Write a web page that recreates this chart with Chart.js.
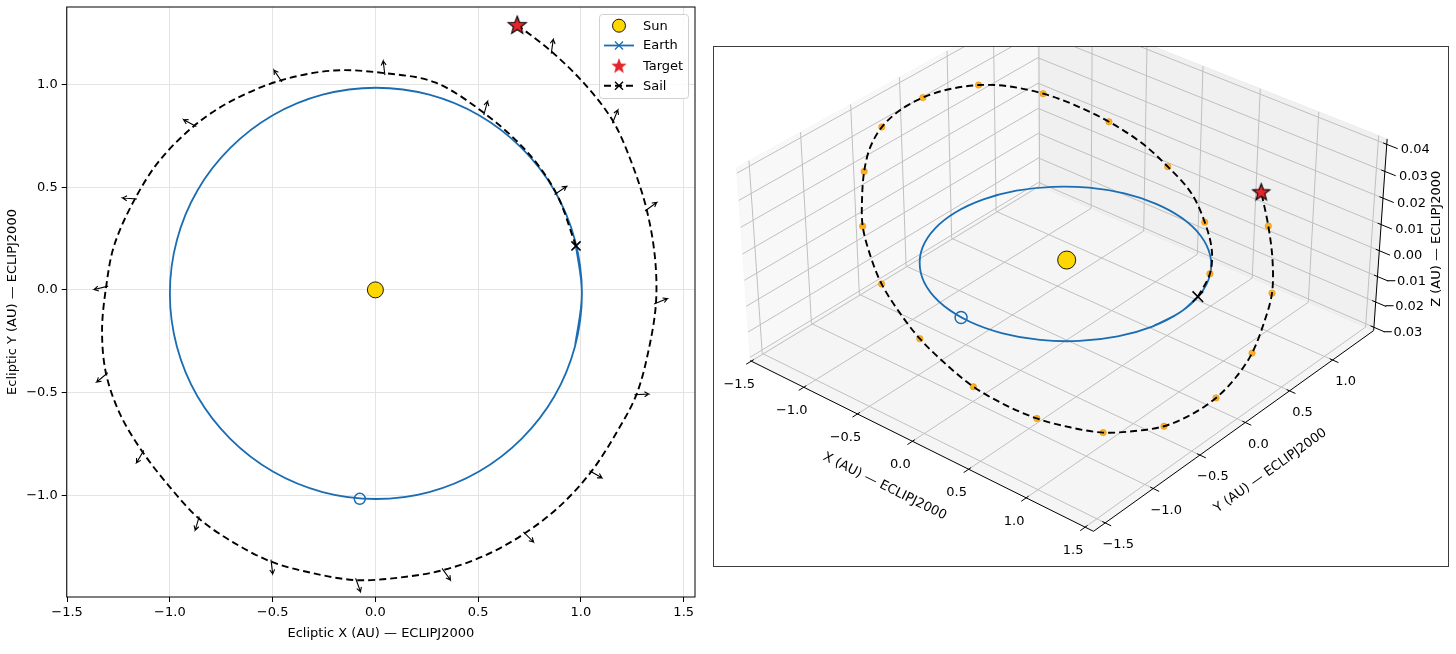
<!DOCTYPE html>
<html><head><meta charset="utf-8">
<script src="https://cdn.jsdelivr.net/npm/chart.js@4.4.1/dist/chart.umd.min.js"></script>
<style>
html,body{margin:0;padding:0;background:#fff;width:1456px;height:654px;overflow:hidden;}
#left{position:absolute;left:0;top:0;width:705px;height:654px;}
#rightBox{position:absolute;left:713px;top:46px;width:734px;height:519px;border:1px solid #3c3c3c;background:#fff;}
canvas{display:block;}
</style></head><body>
<div id="left"><canvas id="c2d" width="705" height="654"></canvas></div>
<div id="rightBox"><canvas id="c3d" width="734" height="519"></canvas></div>
<script>
// ---------------- DATA ----------------
const xTicks = [-1.5, -1.0, -0.5, 0.0, 0.5, 1.0, 1.5];
const yTicks2D = [-1.0, -0.5, 0.0, 0.5, 1.0];
const yTicks3D = [-1.5, -1.0, -0.5, 0.0, 0.5, 1.0];
const zTicks = [-0.03, -0.02, -0.01, 0.00, 0.01, 0.02, 0.03, 0.04];

// Earth orbit (AU, ECLIPJ2000) - closed loop, first/last points overlap the start
const earthX = [0.971, 1.005, 0.971, 0.871, 0.711, 0.504, 0.262, 0.003, -0.257, -0.499, -0.706, -0.866, -0.966, -1.000, -0.966, -0.866, -0.706, -0.499, -0.257, 0.003, 0.262, 0.504, 0.711, 0.871, 0.971, 1.005, 0.971];
const earthY = [-0.276, -0.017, 0.242, 0.484, 0.691, 0.850, 0.950, 0.984, 0.950, 0.850, 0.691, 0.484, 0.242, -0.017, -0.276, -0.518, -0.725, -0.884, -0.984, -1.018, -0.984, -0.884, -0.725, -0.518, -0.276, -0.017, 0.242];
const earthZ = [0, 0, 0, 0, 0, 0, 0, 0, 0, 0, 0, 0, 0, 0, 0, 0, 0, 0, 0, 0, 0, 0, 0, 0, 0, 0, 0];
const earthEnd = [-0.076, -1.017, 0.0];

// Sail trajectory
const sailX = [0.976, 0.88, 0.74, 0.53, 0.29, 0.045, -0.20, -0.46, -0.70, -0.88, -1.05, -1.17, -1.27, -1.31, -1.33, -1.31, -1.24, -1.132, -1.00, -0.86, -0.69, -0.507, -0.30, -0.093, 0.12, 0.33, 0.54, 0.727, 0.90, 1.05, 1.17, 1.27, 1.33, 1.365, 1.36, 1.32, 1.25, 1.157, 1.02, 0.857, 0.69];
const sailY = [0.214, 0.47, 0.67, 0.86, 1.01, 1.055, 1.068, 1.02, 0.92, 0.80, 0.63, 0.443, 0.22, 0.016, -0.20, -0.41, -0.61, -0.79, -0.96, -1.112, -1.23, -1.323, -1.38, -1.413, -1.40, -1.364, -1.29, -1.185, -1.05, -0.885, -0.70, -0.51, -0.29, -0.065, 0.16, 0.39, 0.61, 0.82, 1.00, 1.16, 1.29];
const sailZ = [0.000, 0.001, 0.003, 0.0054, 0.009, 0.0136, 0.018, 0.0226, 0.027, 0.0305, 0.0338, 0.036, 0.037, 0.0375, 0.0368, 0.0352, 0.0328, 0.0298, 0.0258, 0.0214, 0.0165, 0.0113, 0.006, 0.001, -0.0045, -0.0097, -0.014, -0.0179, -0.021, -0.024, -0.0255, -0.0263, -0.026, -0.0244, -0.022, -0.019, -0.014, -0.0091, -0.003, 0.0034, 0.0106];

// Sail attitude samples (position + thrust direction angle in degrees)
const attX = [0.88, 0.53, 0.045, -0.46, -0.88, -1.17, -1.31, -1.31, -1.132, -0.86, -0.507, -0.093, 0.33, 0.727, 1.05, 1.27, 1.365, 1.32, 1.157, 0.857];
const attY = [0.47, 0.86, 1.055, 1.02, 0.80, 0.443, 0.016, -0.41, -0.79, -1.112, -1.323, -1.413, -1.364, -1.185, -0.885, -0.51, -0.065, 0.39, 0.82, 1.16];
const attZ = [0.001, 0.0054, 0.0136, 0.0226, 0.0305, 0.036, 0.0375, 0.0352, 0.0298, 0.0214, 0.0113, 0.001, -0.0097, -0.0179, -0.024, -0.0263, -0.0244, -0.019, -0.0091, 0.0034];
const attAngle = [34, 75, 97, 124, 152, 176, -166, -140, -120, -106, -83, -70, -54, -45, -30, 3, 22, 36, 68, 82];

const sunPos = [0.0, 0.0, 0.0];
const targetPos = [0.69, 1.29, 0.0106];

const legendLabels = ['Sun', 'Earth', 'Target', 'Sail'];

// ---------------- STYLE ----------------
const FONT = 'DejaVu Sans';
const BLUE = '#1a6db3';
const GOLD = '#FFD700';
const RED = '#e3262b';
const ORANGE = 'rgba(255,165,0,0.85)';
const DEG = Math.PI / 180;
const MINUS = '\u2212';
const fmt1 = v => (v < -1e-9 ? MINUS : '') + Math.abs(v).toFixed(1);
const fmt2 = v => (v < -1e-9 ? MINUS : '') + Math.abs(v).toFixed(2);

function makeStar(R, fill, stroke, lw) {
  const s = Math.ceil(2 * R + 2 * lw + 4);
  const c = document.createElement('canvas'); c.width = s; c.height = s;
  const g = c.getContext('2d');
  g.translate(s / 2, s / 2 + R * 0.08);
  g.beginPath();
  for (let i = 0; i < 10; i++) {
    const r = i % 2 === 0 ? R : R * 0.42;
    const a = -Math.PI / 2 + i * Math.PI / 5;
    const px = r * Math.cos(a), py = r * Math.sin(a);
    if (i === 0) g.moveTo(px, py); else g.lineTo(px, py);
  }
  g.closePath();
  g.fillStyle = fill; g.fill();
  g.lineWidth = lw; g.strokeStyle = stroke; g.lineJoin = 'miter'; g.stroke();
  return c;
}
const star2D = makeStar(9.5, RED, '#000', 1.1);
const star3D = makeStar(9, RED, '#000', 1.1);
const starLeg = makeStar(7.5, RED, RED, 0.5);

const pts = (xs, ys) => xs.map((x, i) => ({ x: x, y: ys[i] }));
const SPLINE = 0.33;

// ---------------- LEFT 2D CHART ----------------
const ARROW_LEN = 0.06, ARROW_BACK = 0.01, HEAD = 0.024, HEAD_ANG = 30;
const arrowSets = attX.map((bx, i) => {
  const by = attY[i], t = attAngle[i] * DEG;
  const ux = Math.cos(t), uy = Math.sin(t);
  const tx = bx + ARROW_LEN * ux, ty = by + ARROW_LEN * uy;
  const h1 = t + Math.PI - HEAD_ANG * DEG, h2 = t + Math.PI + HEAD_ANG * DEG;
  return {
    data: [
      { x: bx - ARROW_BACK * ux, y: by - ARROW_BACK * uy },
      { x: tx, y: ty },
      { x: tx + HEAD * Math.cos(h1), y: ty + HEAD * Math.sin(h1) },
      { x: tx, y: ty },
      { x: tx + HEAD * Math.cos(h2), y: ty + HEAD * Math.sin(h2) }
    ],
    showLine: true, borderColor: '#000', borderWidth: 1.1, pointRadius: 0, tension: 0, order: 6
  };
});

const frame2D = {
  id: 'frame2D',
  afterDatasetsDraw(chart) {
    const { ctx, chartArea: a } = chart;
    ctx.save();
    ctx.strokeStyle = '#000'; ctx.lineWidth = 1;
    ctx.strokeRect(a.left, a.top, a.right - a.left, a.bottom - a.top);
    ctx.restore();
  },
  afterDraw(chart) {
    const ctx = chart.ctx;
    const L = 599.5, T = 14.5, W = 89, H = 84;
    ctx.save();
    ctx.beginPath();
    if (ctx.roundRect) ctx.roundRect(L, T, W, H, 3); else ctx.rect(L, T, W, H);
    ctx.fillStyle = 'rgba(255,255,255,0.85)'; ctx.fill();
    ctx.strokeStyle = '#d0d0d0'; ctx.lineWidth = 1; ctx.stroke();
    const rows = [25.7, 45.5, 65.7, 85.7];
    const hx0 = 604, hx1 = 634, hc = 619;
    ctx.beginPath(); ctx.arc(hc, rows[0], 6.5, 0, 2 * Math.PI);
    ctx.fillStyle = GOLD; ctx.fill(); ctx.strokeStyle = '#000'; ctx.lineWidth = 0.9; ctx.stroke();
    ctx.beginPath(); ctx.moveTo(hx0, rows[1]); ctx.lineTo(hx1, rows[1]);
    ctx.strokeStyle = BLUE; ctx.lineWidth = 1.8; ctx.stroke();
    ctx.beginPath(); ctx.moveTo(hc - 4, rows[1] - 4); ctx.lineTo(hc + 4, rows[1] + 4);
    ctx.moveTo(hc - 4, rows[1] + 4); ctx.lineTo(hc + 4, rows[1] - 4);
    ctx.lineWidth = 1.3; ctx.stroke();
    ctx.drawImage(starLeg, hc - starLeg.width / 2, rows[2] - starLeg.height / 2);
    ctx.beginPath(); ctx.setLineDash([7, 4]); ctx.moveTo(hx0, rows[3]); ctx.lineTo(hx1, rows[3]);
    ctx.strokeStyle = '#000'; ctx.lineWidth = 2; ctx.stroke(); ctx.setLineDash([]);
    ctx.beginPath(); ctx.moveTo(hc - 4, rows[3] - 4); ctx.lineTo(hc + 4, rows[3] + 4);
    ctx.moveTo(hc - 4, rows[3] + 4); ctx.lineTo(hc + 4, rows[3] - 4);
    ctx.lineWidth = 1.4; ctx.stroke();
    ctx.fillStyle = '#000'; ctx.font = '13px "' + FONT + '"'; ctx.textBaseline = 'middle'; ctx.textAlign = 'left';
    legendLabels.forEach((t, i) => ctx.fillText(t, 643, rows[i] + 0.5));
    ctx.restore();
  }
};

const tickFont = { family: FONT, size: 13 };
new Chart(document.getElementById('c2d'), {
  type: 'scatter',
  data: {
    datasets: [
      { data: [{ x: targetPos[0], y: targetPos[1] }], pointStyle: star2D, pointRadius: 10, order: 0 },
      { data: [{ x: sunPos[0], y: sunPos[1] }], pointStyle: 'circle', pointRadius: 8, backgroundColor: GOLD, borderColor: '#000', borderWidth: 0.9, order: 1 },
      { data: [{ x: sailX[0], y: sailY[0] }], pointStyle: 'crossRot', pointRadius: 6.5, borderColor: '#000', borderWidth: 1.6, order: 2 },
      { data: pts(sailX, sailY), showLine: true, borderColor: '#000', borderWidth: 1.9, borderDash: [7, 4], pointRadius: 0, tension: SPLINE, order: 3 },
      { data: [{ x: sailX[0], y: sailY[0] }], pointStyle: 'crossRot', pointRadius: 5, borderColor: BLUE, borderWidth: 1.3, order: 4 },
      { data: [{ x: earthEnd[0], y: earthEnd[1] }], pointStyle: 'circle', pointRadius: 5.5, backgroundColor: 'rgba(0,0,0,0)', borderColor: BLUE, borderWidth: 1.5, order: 5 },
      ...arrowSets,
      { data: pts(earthX, earthY), showLine: true, borderColor: BLUE, borderWidth: 1.8, pointRadius: 0, tension: SPLINE, order: 7 }
    ]
  },
  options: {
    responsive: false, animation: false, events: [],
    layout: { autoPadding: false, padding: { top: 7, right: 10, left: 0, bottom: 0 } },
    plugins: { legend: { display: false }, tooltip: { enabled: false } },
    scales: {
      x: {
        type: 'linear', min: -1.502, max: 1.555,
        afterBuildTicks: a => { a.ticks = xTicks.map(v => ({ value: v })); },
        afterFit: a => { a.height = 57; a.paddingLeft = 0; a.paddingRight = 0; },
        ticks: { callback: v => fmt1(v), color: '#000', font: tickFont, padding: 3, maxRotation: 0, autoSkip: false },
        grid: { color: '#e4e4e4', lineWidth: 1, tickColor: '#000', tickLength: 5, tickWidth: 1 },
        border: { display: false },
        title: { display: true, text: 'Ecliptic X (AU) \u2014 ECLIPJ2000', color: '#000', font: tickFont, padding: { top: 0, bottom: 13 } }
      },
      y: {
        type: 'linear', min: -1.495, max: 1.377,
        afterBuildTicks: a => { a.ticks = yTicks2D.map(v => ({ value: v })); },
        afterFit: a => { a.width = 66.7; a.paddingTop = 0; a.paddingBottom = 0; },
        ticks: { callback: v => fmt1(v), color: '#000', font: tickFont, padding: 4, autoSkip: false },
        grid: { color: '#e4e4e4', lineWidth: 1, tickColor: '#000', tickLength: 5, tickWidth: 1 },
        border: { display: false },
        title: { display: true, text: 'Ecliptic Y (AU) \u2014 ECLIPJ2000', color: '#000', font: tickFont, padding: { top: 5, bottom: 0 } }
      }
    }
  },
  plugins: [frame2D]
});

// ---------------- RIGHT 3D CHART ----------------
const W3 = 734, H3 = 519;
const lim = { x: [-1.51, 1.57], y: [-1.62, 1.49], z: [-0.0313, 0.042] };
const view = { azim: -50, elev: 35, dist: 15.1, sx: 226, sy: 208.4, cx: 1064 - 714, cy: 251.4 - 47, h: 0.563 };

function proj(x, y, z) {
  const X = (x - (lim.x[0] + lim.x[1]) / 2) / ((lim.x[1] - lim.x[0]) / 2);
  const Y = (y - (lim.y[0] + lim.y[1]) / 2) / ((lim.y[1] - lim.y[0]) / 2);
  const Z = (z - (lim.z[0] + lim.z[1]) / 2) / ((lim.z[1] - lim.z[0]) / 2) * view.h;
  const a = view.azim * DEG, e = view.elev * DEG;
  const R = -Math.sin(a) * X + Math.cos(a) * Y;
  const U = -Math.sin(e) * Math.cos(a) * X - Math.sin(e) * Math.sin(a) * Y + Math.cos(e) * Z;
  const dep = Math.cos(e) * Math.cos(a) * X + Math.cos(e) * Math.sin(a) * Y + Math.sin(e) * Z;
  const f = view.dist / (view.dist - dep);
  return { x: view.cx + view.sx * f * R, y: view.cy - view.sy * f * U };
}
const proj3 = (xs, ys, zs) => xs.map((x, i) => proj(x, ys[i], zs[i]));
function segs(list) {
  const out = [];
  list.forEach(([p, q]) => { out.push(proj(...p), proj(...q), { x: NaN, y: NaN }); });
  return out;
}
const [x0, x1] = lim.x, [y0, y1] = lim.y, [z0, z1] = lim.z;
const poly = c => { const p = c.map(v => proj(...v)); p.push(p[0]); return p; };

const paneFloor = poly([[x0, y0, z0], [x1, y0, z0], [x1, y1, z0], [x0, y1, z0]]);
const paneLeft = poly([[x0, y0, z0], [x0, y1, z0], [x0, y1, z1], [x0, y0, z1]]);
const paneBack = poly([[x0, y1, z0], [x1, y1, z0], [x1, y1, z1], [x0, y1, z1]]);

const gridList = [];
xTicks.forEach(v => { gridList.push([[v, y0, z0], [v, y1, z0]]); gridList.push([[v, y1, z0], [v, y1, z1]]); });
yTicks3D.forEach(v => { gridList.push([[x0, v, z0], [x1, v, z0]]); gridList.push([[x0, v, z0], [x0, v, z1]]); });
zTicks.forEach(v => { gridList.push([[x0, y0, v], [x0, y1, v]]); gridList.push([[x0, y1, v], [x1, y1, v]]); });

const axisList = [
  [[x0, y0, z0], [x1, y0, z0]],
  [[x1, y0, z0], [x1, y1, z0]],
  [[x1, y1, z0], [x1, y1, z1]]
];
xTicks.forEach(v => axisList.push([[v, y0 + 0.025, z0], [v, y0 - 0.05, z0]]));
yTicks3D.forEach(v => axisList.push([[x1 - 0.025, v, z0], [x1 + 0.05, v, z0]]));
zTicks.forEach(v => axisList.push([[x1 - 0.03, y1, v], [x1 + 0.09, y1, v]]));

const text3D = {
  id: 'text3D',
  afterDatasetsDraw(chart) {
    const ctx = chart.ctx, sx = chart.scales.x, sy = chart.scales.y;
    const P = (x, y, z) => { const p = proj(x, y, z); return [sx.getPixelForValue(p.x), sy.getPixelForValue(p.y)]; };
    ctx.save();
    ctx.fillStyle = '#000'; ctx.font = '13px "' + FONT + '"';
    ctx.textAlign = 'center'; ctx.textBaseline = 'middle';
    xTicks.forEach(v => { const [px, py] = P(v, y0, z0); ctx.fillText(fmt1(v), px - 12, py + 23.5); });
    yTicks3D.forEach(v => { const [px, py] = P(x1, v, z0); ctx.fillText(fmt1(v), px + 13, py + 22); });
    zTicks.forEach(v => { const [px, py] = P(x1, y1, v); ctx.fillText(fmt2(v), px + 28.5, py + 5); });
    const xa = P(x0, y0, z0), xb = P(x1, y0, z0), xm = P((x0 + x1) / 2, y0, z0);
    ctx.save(); ctx.translate(xm[0] - 31, xm[1] + 43.5);
    ctx.rotate(Math.atan2(xb[1] - xa[1], xb[0] - xa[0]));
    ctx.fillText('X (AU) \u2014 ECLIPJ2000', 0, 0); ctx.restore();
    const ya = P(x1, y0, z0), yb = P(x1, y1, z0), ym = P(x1, (y0 + y1) / 2, z0);
    ctx.save(); ctx.translate(ym[0] + 31, ym[1] + 44);
    ctx.rotate(Math.atan2(yb[1] - ya[1], yb[0] - ya[0]));
    ctx.fillText('Y (AU) \u2014 ECLIPJ2000', 0, 0); ctx.restore();
    const zm = P(x1, y1, (z0 + z1) / 2);
    ctx.save(); ctx.translate(zm[0] + 56, zm[1] + 2);
    ctx.rotate(-Math.PI / 2);
    ctx.fillText('Z (AU) \u2014 ECLIPJ2000', 0, 0); ctx.restore();
    ctx.restore();
  }
};

new Chart(document.getElementById('c3d'), {
  type: 'scatter',
  data: {
    datasets: [
      { data: [proj(...targetPos)], pointStyle: star3D, pointRadius: 10, order: 0 },
      { data: [proj(sailX[0], sailY[0], sailZ[0])], pointStyle: 'crossRot', pointRadius: 7.5, borderColor: '#000', borderWidth: 1.6, order: 1 },
      { data: proj3(sailX, sailY, sailZ), showLine: true, borderColor: '#000', borderWidth: 1.9, borderDash: [7, 4], pointRadius: 0, tension: SPLINE, order: 2 },
      { data: proj3(attX, attY, attZ), pointStyle: 'circle', pointRadius: 3.2, backgroundColor: ORANGE, borderColor: 'rgba(230,140,0,0.9)', borderWidth: 0.6, order: 3 },
      { data: [proj(...sunPos)], pointStyle: 'circle', pointRadius: 9, backgroundColor: GOLD, borderColor: '#000', borderWidth: 0.9, order: 4 },
      { data: [proj(...earthEnd)], pointStyle: 'circle', pointRadius: 6, backgroundColor: 'rgba(0,0,0,0)', borderColor: BLUE, borderWidth: 1.5, order: 5 },
      { data: proj3(earthX, earthY, earthZ), showLine: true, borderColor: BLUE, borderWidth: 1.8, pointRadius: 0, tension: SPLINE, order: 6 },
      { data: segs(axisList), showLine: true, borderColor: '#000', borderWidth: 1, pointRadius: 0, tension: 0, spanGaps: false, order: 7 },
      { data: segs(gridList), showLine: true, borderColor: '#bfbfbf', borderWidth: 1, pointRadius: 0, tension: 0, spanGaps: false, order: 8 },
      { data: paneFloor, showLine: true, fill: 'shape', backgroundColor: 'rgba(236,236,236,0.55)', borderColor: 'rgba(236,236,236,0.55)', borderWidth: 1, pointRadius: 0, tension: 0, order: 9 },
      { data: paneLeft, showLine: true, fill: 'shape', backgroundColor: 'rgba(243,243,243,0.55)', borderColor: 'rgba(243,243,243,0.55)', borderWidth: 1, pointRadius: 0, tension: 0, order: 10 },
      { data: paneBack, showLine: true, fill: 'shape', backgroundColor: 'rgba(228,228,228,0.55)', borderColor: 'rgba(228,228,228,0.55)', borderWidth: 1, pointRadius: 0, tension: 0, order: 11 }
    ]
  },
  options: {
    responsive: false, animation: false, events: [],
    layout: { autoPadding: false, padding: 0 },
    plugins: { legend: { display: false }, tooltip: { enabled: false } },
    scales: {
      x: { type: 'linear', min: 0, max: W3, display: false },
      y: { type: 'linear', min: 0, max: H3, reverse: true, display: false }
    }
  },
  plugins: [text3D]
});
</script>
</body></html>
